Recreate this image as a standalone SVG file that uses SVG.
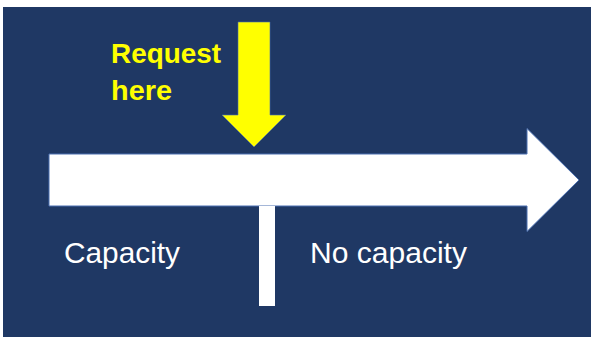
<svg xmlns="http://www.w3.org/2000/svg" width="595" height="339" viewBox="0 0 595 339">
<style>
.lbl{font-family:"Liberation Sans",Arial,sans-serif;font-size:29px;fill:#FFFFFF}
.req{font-family:"Liberation Sans",Arial,sans-serif;font-size:28px;font-weight:bold;fill:#FFFF00}
</style>
<rect x="0" y="0" width="595" height="339" fill="#FFFFFF"/>
<rect x="3" y="7" width="588" height="330" fill="#1F3864"/>
<g id="timeline">
<polygon points="49,154 527,154 527,128.5 579,180 527,231.5 527,206 49,206" fill="#FFFFFF" stroke="#4A6FB0" stroke-width="1"/>
</g>
<g id="divider">
<rect x="259" y="206" width="16" height="100" fill="#FFFFFF"/>
</g>
<g id="request-arrow">
<polygon points="238,22 270,22 270,115 286,115 254,147 222,115 238,115" fill="#FFFF00" stroke="#4A6FB0" stroke-width="0.6"/>
<text class="req" x="111" y="63" textLength="110" lengthAdjust="spacingAndGlyphs">Request</text>
<text class="req" x="111" y="100" textLength="61" lengthAdjust="spacingAndGlyphs">here</text>
</g>
<g id="capacity">
<text class="lbl" x="64" y="263" textLength="116" lengthAdjust="spacingAndGlyphs">Capacity</text>
</g>
<g id="no-capacity">
<text class="lbl" x="310" y="263" textLength="157" lengthAdjust="spacingAndGlyphs">No capacity</text>
</g>
</svg>
